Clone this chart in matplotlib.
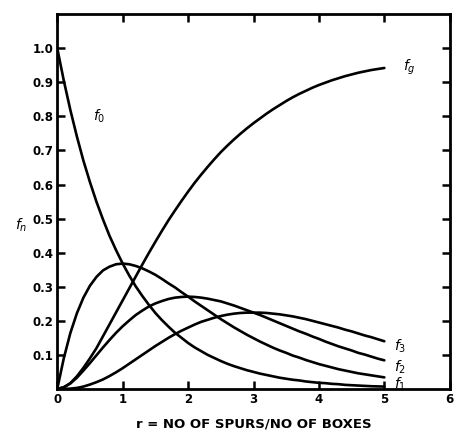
import matplotlib
matplotlib.use("Agg")
import matplotlib.pyplot as plt

# r = spurs per box, sampled every 0.1 from 0 to 5
r = [round(0.1 * i, 1) for i in range(51)]

f0 = [1.000, 0.905, 0.819, 0.741, 0.670, 0.607, 0.549, 0.497, 0.449, 0.407,
      0.368, 0.333, 0.301, 0.273, 0.247, 0.223, 0.202, 0.183, 0.165, 0.150,
      0.135, 0.122, 0.111, 0.100, 0.091, 0.082, 0.074, 0.067, 0.061, 0.055,
      0.050, 0.045, 0.041, 0.037, 0.033, 0.030, 0.027, 0.025, 0.022, 0.020,
      0.018, 0.017, 0.015, 0.014, 0.012, 0.011, 0.010, 0.009, 0.008, 0.0075,
      0.007]
f1 = [0.000, 0.090, 0.164, 0.222, 0.268, 0.303, 0.329, 0.348, 0.359, 0.366,
      0.368, 0.366, 0.361, 0.354, 0.345, 0.335, 0.323, 0.310, 0.298, 0.284,
      0.271, 0.257, 0.244, 0.231, 0.218, 0.205, 0.193, 0.181, 0.170, 0.159,
      0.149, 0.139, 0.130, 0.121, 0.113, 0.106, 0.098, 0.092, 0.085, 0.079,
      0.073, 0.068, 0.063, 0.058, 0.054, 0.050, 0.046, 0.043, 0.040, 0.037,
      0.034]
f2 = [0.000, 0.005, 0.016, 0.033, 0.054, 0.076, 0.099, 0.122, 0.144, 0.165,
      0.184, 0.201, 0.217, 0.230, 0.242, 0.251, 0.258, 0.264, 0.268, 0.270,
      0.271, 0.270, 0.268, 0.265, 0.261, 0.257, 0.251, 0.245, 0.238, 0.231,
      0.224, 0.217, 0.209, 0.201, 0.193, 0.185, 0.177, 0.169, 0.162, 0.154,
      0.147, 0.139, 0.132, 0.125, 0.119, 0.113, 0.106, 0.101, 0.095, 0.089,
      0.084]
f3 = [0.000, 0.0002, 0.001, 0.003, 0.007, 0.013, 0.020, 0.028, 0.038, 0.049,
      0.061, 0.074, 0.087, 0.100, 0.113, 0.126, 0.138, 0.150, 0.161, 0.171,
      0.180, 0.189, 0.197, 0.203, 0.209, 0.214, 0.218, 0.221, 0.223, 0.224,
      0.224, 0.224, 0.223, 0.221, 0.219, 0.216, 0.213, 0.209, 0.205, 0.200,
      0.195, 0.190, 0.185, 0.180, 0.174, 0.169, 0.163, 0.157, 0.152, 0.146,
      0.140]
fg = [0.000, 0.005, 0.017, 0.037, 0.062, 0.090, 0.120, 0.155, 0.190, 0.225,
      0.260, 0.295, 0.330, 0.365, 0.399, 0.432, 0.464, 0.495, 0.524, 0.552,
      0.579, 0.605, 0.629, 0.652, 0.674, 0.695, 0.714, 0.732, 0.749, 0.765,
      0.780, 0.794, 0.808, 0.821, 0.833, 0.845, 0.856, 0.866, 0.875, 0.884,
      0.892, 0.899, 0.906, 0.912, 0.918, 0.923, 0.928, 0.932, 0.936, 0.939,
      0.942]

x_ticks = [0, 1, 2, 3, 4, 5, 6]
y_ticks = [0.1, 0.2, 0.3, 0.4, 0.5, 0.6, 0.7, 0.8, 0.9, 1.0]
y_tick_labels = ["0.1", "0.2", "0.3", "0.4", "0.5", "0.6", "0.7", "0.8", "0.9", "1.0"]

curve_labels = [
    (r"$f_0$", 0.55, 0.80),
    (r"$f_g$", 5.28, 0.945),
    (r"$f_3$", 5.15, 0.125),
    (r"$f_2$", 5.15, 0.065),
    (r"$f_1$", 5.15, 0.015),
]

plt.rcParams["font.family"] = ["DejaVu Sans"]
plt.rcParams["mathtext.fontset"] = "dejavusans"

fig = plt.figure(figsize=(4.58, 4.42), dpi=100)
ax = fig.add_axes([0.125, 0.12, 0.857, 0.848])

for series in (f0, f1, f2, f3, fg):
    ax.plot(r, series, color="black", lw=1.9, solid_capstyle="round",
            solid_joinstyle="round")

ax.set_xlim(0, 6)
ax.set_ylim(0, 1.1)

ax.set_xticks(x_ticks)
ax.set_xticklabels([str(t) for t in x_ticks], fontsize=8.5, fontweight="bold")
ax.set_yticks(y_ticks)
ax.set_yticklabels(y_tick_labels, fontsize=8.5, fontweight="bold")

ax.tick_params(direction="in", length=6, width=1.8, top=True, right=True,
               labeltop=False, labelright=False, pad=3)

for side in ax.spines.values():
    side.set_linewidth(2.0)

for text, tx, ty in curve_labels:
    ax.text(tx, ty, text, fontsize=10, fontweight="bold", ha="left", va="center")

ax.text(-0.64, 0.48, r"$f_n$", fontsize=10, ha="left", va="center")

ax.set_xlabel("r = NO OF SPURS/NO OF BOXES", fontsize=9.5, fontweight="bold",
              labelpad=8)

fig.savefig("out.png", dpi=100)
